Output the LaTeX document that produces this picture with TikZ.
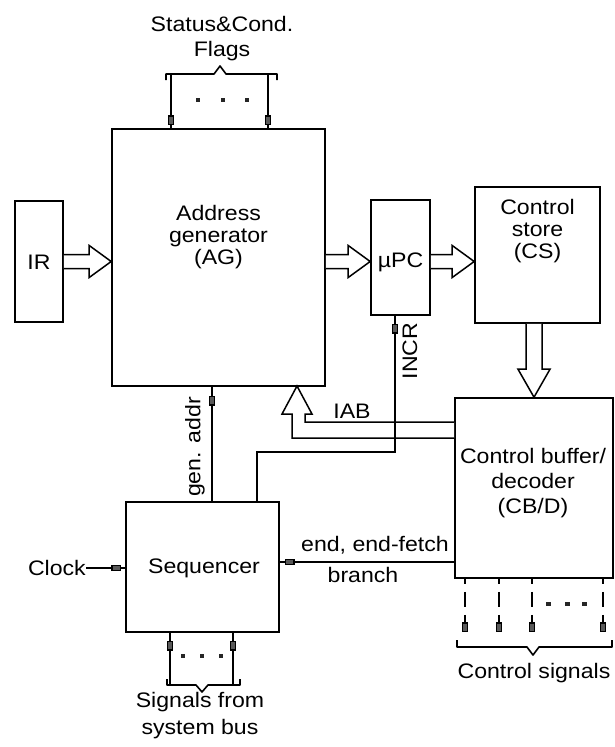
\documentclass[tikz,border=0pt]{standalone}
\usepackage{fontspec}
\setmainfont{Liberation Sans}[FakeStretch=1.1]
\usetikzlibrary{arrows.meta,decorations.markings,calc}
\tikzset{
  sigtip/.tip={Rectangle[length=10pt,width=6.5pt,fill=black!65]},
}
\newcommand{\hollowR}[2]{\draw[hollow] let \p1=(#1), \p2=(#2) in (\x1,\y1+7pt) -- (\x2-22pt,\y1+7pt) -- (\x2-22pt,\y1+16pt) -- (\x2,\y1) -- (\x2-22pt,\y1-16pt) -- (\x2-22pt,\y1-7pt) -- (\x1,\y1-7pt);}
\newcommand{\hollowD}[2]{\draw[hollow] let \p1=(#1), \p2=(#2) in (\x1-8pt,\y1) -- (\x1-8pt,\y2+28pt) -- (\x1-16pt,\y2+28pt) -- (\x1,\y2) -- (\x1+16pt,\y2+28pt) -- (\x1+8pt,\y2+28pt) -- (\x1+8pt,\y1);}
\begin{document}
\begin{tikzpicture}[x=1pt,y=-1pt,
  box/.style={draw, line width=1.6pt, rectangle, inner sep=0pt},
  lbl/.style={font=\fontsize{21}{25}\selectfont, align=center, inner sep=0pt},
  hollow/.style={draw, line width=1.5pt, fill=white, line join=miter},
  wire/.style={draw, line width=1.5pt},
  tipat/.style={postaction={decorate}, decoration={markings, mark=at position #1 with {\arrow{sigtip}}}},
  ctlline/.style={wire, dash pattern=on 15pt off 8pt, dash phase=10pt},
  dotsq/.style={fill=black!85},
  bracket/.style={draw, line width=1.6pt, line join=round},
]
\fill[white] (0,0) rectangle (615,747);
\useasboundingbox (0,0) rectangle (615,747);

% boxes
\node[box, minimum width=48pt, minimum height=121pt] (ir) at (39,261.5) {};
\node[lbl] (irt) at (39,262) {IR};
\node[box, minimum width=213pt, minimum height=257pt] (ag) at (218.5,257.5) {};
\node[lbl, font=\fontsize{21}{22}\selectfont] (agt) at (218.5,237) {Address\\generator\\(AG)};
\node[box, minimum width=59pt, minimum height=115pt] (upc) at (400.5,257.5) {};
\node[lbl] (upct) at (400.5,262) {µPC};
\node[box, minimum width=125pt, minimum height=136pt] (cs) at (537.5,255) {};
\node[lbl, font=\fontsize{21}{22}\selectfont] (cst) at (537.5,231) {Control\\store\\(CS)};
\node[box, minimum width=158pt, minimum height=180pt] (cbd) at (534,488) {};
\node[lbl] (cbdt) at (533,483) {Control buffer/\\decoder\\(CB/D)};
\node[box, minimum width=153pt, minimum height=130pt] (seq) at (202.5,567) {};
\node[lbl] (seqt) at (204,568) {Sequencer};

% hollow arrows
\hollowR{ir.east}{ag.west |- ir.east}
\hollowR{ag.east |- ir.east}{upc.west |- ir.east}
\hollowR{upc.east |- ir.east}{cs.west |- ir.east}
\hollowD{cs.south -| cbd.north}{cbd.north}

% IAB hollow arrow
\coordinate (iabtip) at (297,386);
\draw[hollow] (cbd.west |- 0,422) -- (305,422) -- (305,414) -- (312,414) -- (iabtip) -- (282,414) -- (292,414) -- (292,438) -- (cbd.west |- 0,438);
\node[lbl] (iab) at (352,411) {IAB};

% status flags
\node[lbl] (status) at (222,39) {Status\&Cond.\\Flags};
\draw[bracket] (166,80) -- (166,74) -- (214,74) -- (220,66) -- (226,74) -- (277,74) -- (277,80);
\coordinate (f1) at (171,74);
\coordinate (f2) at (268,74);
\draw[wire, tipat=-3pt] (f1) -- (ag.north -| f1);
\draw[wire, tipat=-3pt] (f2) -- (ag.north -| f2);
\fill[dotsq] (196,98) rectangle (200,102);
\fill[dotsq] (221,98) rectangle (225,102);
\fill[dotsq] (245,98) rectangle (249,102);

% gen. addr
\coordinate (gx) at (212,0);
\draw[wire, tipat=-9pt] (seq.north -| gx) -- (ag.south -| gx);
\node[lbl, rotate=90] (gen) at (195,447) {gen. addr};

% INCR
\coordinate (ix) at (257,0);
\coordinate (ibend1) at (257,452);
\coordinate (ibend2) at (395,452);
\draw[wire, tipat=-8pt] (seq.north -| ix) -- (ibend1) -- (ibend2) -- (upc.south -| ibend2);
\node[lbl, rotate=90] (incr) at (410,351) {INCR};

% Clock
\node[lbl, anchor=east] (clock) at (86,568) {Clock};
\draw[wire, tipat=-4pt] (clock.east) -- (seq.west |- clock.east);

% end, end-fetch, branch
\draw[wire, tipat=-5pt] (cbd.west |- 0,562) -- (seq.east |- 0,562);
\node[lbl] (endt) at (375,545) {end, end-fetch};
\node[lbl] (brt) at (363,575) {branch};

% signals from system bus
\draw[bracket] (167,679) -- (167,685) -- (196,685) -- (202,692) -- (208,685) -- (240,685) -- (240,679);
\coordinate (b1) at (170,685);
\coordinate (b2) at (233,685);
\draw[wire, tipat=-8pt] (b1) -- (seq.south -| b1);
\draw[wire, tipat=-8pt] (b2) -- (seq.south -| b2);
\fill[dotsq] (181,654) rectangle (185,658);
\fill[dotsq] (200,654) rectangle (204,658);
\fill[dotsq] (219,654) rectangle (223,658);
\node[lbl, font=\fontsize{21}{27}\selectfont] (sig) at (200,716) {Signals from\\system bus};

% control signals
\coordinate (c1) at (465,633);
\coordinate (c2) at (499,633);
\coordinate (c3) at (532,633);
\coordinate (c4) at (603,633);
\foreach \c in {c1,c2,c3,c4}{
  \draw[ctlline, tipat=-1pt] (cbd.south -| \c) -- (\c);
}
\fill[dotsq] (546,602) rectangle (551,606);
\fill[dotsq] (565,602) rectangle (570,606);
\fill[dotsq] (582,602) rectangle (587,606);
\draw[bracket] (457,640) -- (457,647) -- (527,647) -- (533,655) -- (539,647) -- (612,647) -- (612,640);
\node[lbl] (ctl) at (534,673) {Control signals};
\end{tikzpicture}
\end{document}
